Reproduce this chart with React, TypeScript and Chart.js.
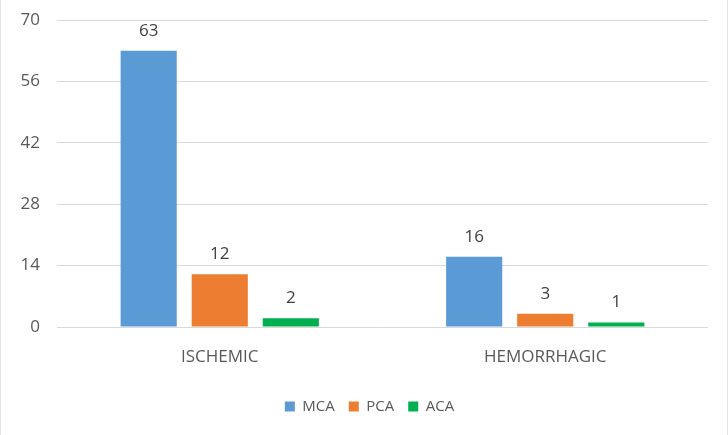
import React, { useEffect, useRef } from "react";
import { Chart, registerables } from "chart.js";

Chart.register(...registerables);

const categories = ["ISCHEMIC", "HEMORRHAGIC"];
const seriesNames = ["MCA", "PCA", "ACA"];
const mcaValues = [63, 16];
const pcaValues = [12, 3];
const acaValues = [2, 1];
const yTicks = [0, 14, 28, 42, 56, 70];

const colors = ["#5B9BD5", "#ED7D31", "#00B050"];
const FONT = "'Open Sans', 'Noto Sans', sans-serif";

const valueLabels = {
  id: "valueLabels",
  afterDatasetsDraw(chart: any) {
    const ctx = chart.ctx;
    ctx.save();
    ctx.font = `17px ${FONT}`;
    ctx.fillStyle = "#404040";
    ctx.textAlign = "center";
    ctx.textBaseline = "middle";
    chart.data.datasets.forEach((ds: any, di: number) => {
      const meta = chart.getDatasetMeta(di);
      meta.data.forEach((el: any, i: number) => {
        ctx.fillText(String(ds.data[i]), el.x, el.y - 20);
      });
    });
    ctx.restore();
  },
};

export default function App() {
  const ref = useRef<HTMLCanvasElement | null>(null);
  useEffect(() => {
    if (!ref.current) return;
    const chart = new Chart(ref.current, {
      type: "bar",
      data: {
        labels: categories,
        datasets: [mcaValues, pcaValues, acaValues].map((d, i) => ({
          label: seriesNames[i],
          data: d,
          backgroundColor: colors[i],
          categoryPercentage: 0.655,
          barPercentage: 0.79,
        })),
      },
      options: {
        animation: false,
        responsive: false,
        maintainAspectRatio: false,
        layout: { padding: { left: 18, right: 7, top: 20, bottom: 11 } },
        plugins: {
          tooltip: { enabled: false },
          legend: {
            position: "bottom",
            labels: {
              boxWidth: 10,
              boxHeight: 10,
              padding: 14,
              color: "#595959",
              font: { family: FONT, size: 15 },
            },
          },
        },
        scales: {
          x: {
            grid: { display: false },
            border: { display: false },
            ticks: {
              color: "#595959",
              font: { family: FONT, size: 17 },
              padding: 12,
            },
            afterFit: (s: any) => {
              s.height = 58;
            },
          },
          y: {
            min: 0,
            max: 70,
            afterBuildTicks: (s: any) => {
              s.ticks = yTicks.map((v) => ({ value: v }));
            },
            afterFit: (s: any) => {
              s.width = 38;
              s.paddingTop = 0;
              s.paddingBottom = 0;
            },
            grid: { color: "#d9d9d9", drawTicks: false, lineWidth: 1 },
            border: { display: false },
            ticks: {
              color: "#595959",
              font: { family: FONT, size: 17 },
              padding: 17,
            },
          },
          spacer: {
            type: "linear",
            position: "right",
            display: true,
            grid: { display: false, drawTicks: false },
            border: { display: false },
            ticks: { display: false },
            afterFit: (s: any) => {
              s.width = 12;
              s.paddingTop = 0;
              s.paddingBottom = 0;
            },
          },
        },
      },
      plugins: [valueLabels],
    });
    return () => chart.destroy();
  }, []);
  return (
    <div
      style={{
        position: "absolute",
        left: 0,
        top: 0,
        width: 728,
        height: 435,
        boxSizing: "border-box",
        borderLeft: "1px solid #e6e6e6",
        borderRight: "1px solid #e6e6e6",
        background: "#fff",
      }}
    >
      <canvas ref={ref} width={726} height={435} style={{ display: "block" }} />
    </div>
  );
}
